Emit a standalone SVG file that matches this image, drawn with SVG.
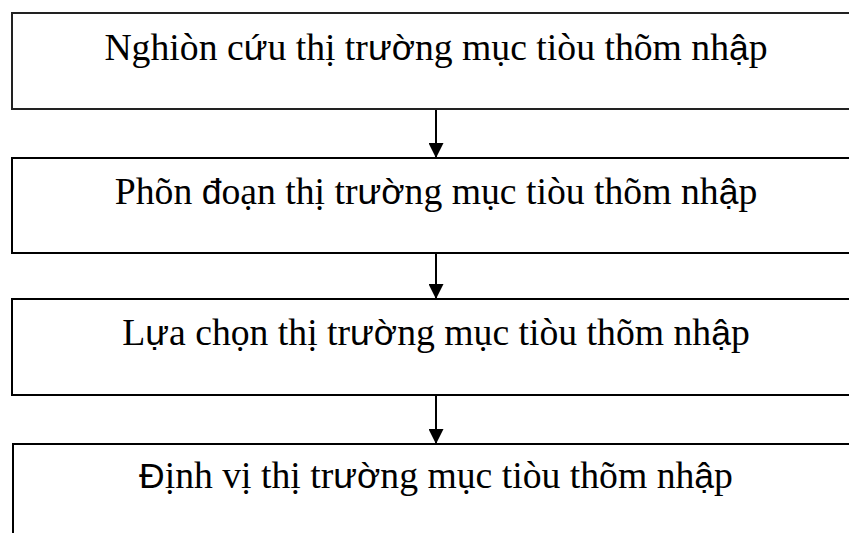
<svg xmlns="http://www.w3.org/2000/svg" width="849" height="533" viewBox="0 0 849 533">
  <style>
    .box { fill: #ffffff; stroke: #000000; stroke-width: 2; }
    .lbl { font-family: "Liberation Serif", "Times New Roman", serif; font-size: 37.7px; fill: #000000; text-anchor: middle; }
    .s { font-family: "Liberation Sans", Arial, sans-serif; font-size: 35.5px; }
    .link { stroke: #000000; stroke-width: 2; fill: none; marker-end: url(#head); }
  </style>
  <defs>
    <!-- solid downward arrowhead, tip at the end of the line -->
    <marker id="head" viewBox="0 0 15 15" refX="15" refY="7.5" markerWidth="15" markerHeight="15" markerUnits="userSpaceOnUse" orient="auto">
      <path d="M0,0 L15,7.5 L0,15 Z" fill="#000000"/>
    </marker>
  </defs>
  <rect width="849" height="533" fill="#ffffff"/>

  <g id="connectors">
    <line class="link" x1="436" y1="109" x2="436" y2="158"/>
    <line class="link" x1="436" y1="253" x2="436" y2="299"/>
    <line class="link" x1="436" y1="395" x2="436" y2="444"/>
  </g>

  <g id="step1">
    <rect class="box" x="12" y="13" width="860" height="96" style="stroke:#222"/>
    <text class="lbl" x="436" y="60">Nghiòn c<tspan class="s">ứ</tspan>u thị tr<tspan class="s">ườ</tspan>ng mục tiòu thõm nh<tspan class="s">ậ</tspan>p</text>
  </g>

  <g id="step2">
    <rect class="box" x="12" y="158" width="860" height="95"/>
    <text class="lbl" x="436" y="204">Phõn <tspan class="s">đ</tspan>oạn thị tr<tspan class="s">ườ</tspan>ng mục tiòu thõm nh<tspan class="s">ậ</tspan>p</text>
  </g>

  <g id="step3">
    <rect class="box" x="12" y="299" width="860" height="96"/>
    <text class="lbl" x="436" y="345">L<tspan class="s">ự</tspan>a chọn thị tr<tspan class="s">ườ</tspan>ng mục tiòu thõm nh<tspan class="s">ậ</tspan>p</text>
  </g>

  <g id="step4">
    <rect class="box" x="13" y="444" width="860" height="120"/>
    <text class="lbl" x="436" y="488"><tspan class="s">Đ</tspan>ịnh vị thị tr<tspan class="s">ườ</tspan>ng mục tiòu thõm nh<tspan class="s">ậ</tspan>p</text>
  </g>
</svg>
